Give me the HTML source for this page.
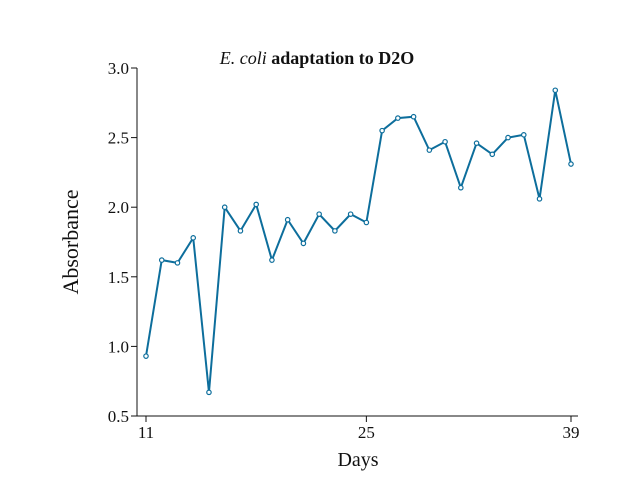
<!DOCTYPE html>
<html><head><meta charset="utf-8"><style>
body{margin:0;background:#fff;}
svg{display:block;font-family:"Liberation Serif",serif;}
</style></head><body>
<svg id="chart" width="638" height="479">
<text x="317" y="64" text-anchor="middle" font-size="18" fill="#111"><tspan font-style="italic">E. coli</tspan> <tspan font-weight="bold">adaptation to D2O</tspan></text>
<text x="358" y="466" text-anchor="middle" font-size="20" fill="#111">Days</text>
<text transform="translate(78,242) rotate(-90)" text-anchor="middle" font-size="22" fill="#111">Absorbance</text>
<g id="axes"></g>
<g id="marks"></g>
</svg>
<script>
const xTickLabels = ["11","25","39"];
const xTickIndex = [0,14,27];
const yTicks = [0.5,1.0,1.5,2.0,2.5,3.0];
const values = [0.93,1.62,1.60,1.78,0.67,2.00,1.83,2.02,1.62,1.91,1.74,1.95,1.83,1.95,1.89,2.55,2.64,2.65,2.41,2.47,2.14,2.46,2.38,2.50,2.52,2.06,2.84,2.31];

const NS="http://www.w3.org/2000/svg";
const x0=146,x1=571,y0=416,y1=68,ymin=0.5,ymax=3.0;
const n=values.length;
function xs(i){return x0+(x1-x0)*i/(n-1);}
function ys(v){return y0-(v-ymin)/(ymax-ymin)*(y0-y1);}
function mk(tag,attrs,parent){const e=document.createElementNS(NS,tag);for(const k in attrs)e.setAttribute(k,attrs[k]);parent.appendChild(e);return e;}
const axes=document.getElementById('axes'),marks=document.getElementById('marks');
let ya=mk('line',{x1:137,y1:y1,x2:137,y2:y0,stroke:'#111','stroke-width':1},axes);


let xa=mk('line',{x1:137,y1:y0,x2:578,y2:y0,stroke:'#111','stroke-width':1},axes);


yTicks.forEach(v=>{
  const y=ys(v);
  mk('line',{x1:137,y1:y,x2:131,y2:y,stroke:'#111'},axes);
  const t=mk('text',{x:129,y:y+6,'text-anchor':'end','font-size':17,fill:'#111'},axes);
  t.textContent=v.toFixed(1);
  
  
});
xTickIndex.forEach((i,k)=>{
  const x=xs(i);
  mk('line',{x1:x,y1:y0,x2:x,y2:y0+6,stroke:'#111'},axes);
  const t=mk('text',{x:x,y:y0+22,'text-anchor':'middle','font-size':17,fill:'#111'},axes);
  t.textContent=xTickLabels[k];
  
  
});
const pl=mk('polyline',{points:values.map((v,i)=>xs(i)+','+ys(v)).join(' '),fill:'none',stroke:'#0d6e9c','stroke-width':2},marks);


values.forEach((v,i)=>{
  const c=mk('circle',{cx:xs(i),cy:ys(v),r:2.2,fill:'#fff',stroke:'#0d6e9c','stroke-width':1.2},marks);
  
  
});
</script>
</body></html>
